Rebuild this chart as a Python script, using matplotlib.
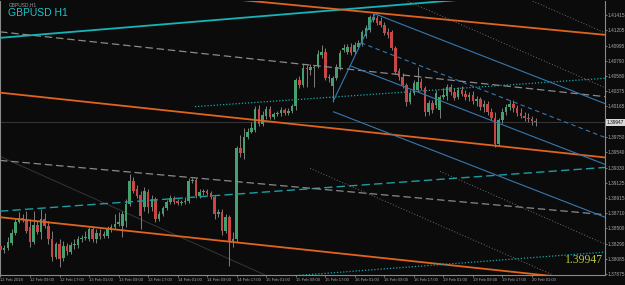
import matplotlib
matplotlib.use("Agg")
import matplotlib.pyplot as plt
import numpy as np

# GBPUSD H1 bars, 12 Feb 2018 01:00 .. 20 Feb 2018 02:00 (bar index 0 = 12 Feb 00:00)
opens = [1.38259, 1.38204, 1.38232, 1.38300, 1.38436, 1.38585, 1.38640, 1.38612, 1.38517, 1.38313,
         1.38544, 1.38449, 1.38626, 1.38531, 1.38354, 1.38109, 1.38286, 1.38096, 1.38259, 1.38177,
         1.38272, 1.38272, 1.38354, 1.38368, 1.38354, 1.38490, 1.38354, 1.38436, 1.38395, 1.38395,
         1.38476, 1.38517, 1.38558, 1.38531, 1.38599, 1.38830, 1.39143, 1.39034, 1.38952, 1.38789,
         1.38993, 1.38789, 1.38898, 1.38626, 1.38694, 1.38776, 1.38857, 1.38912, 1.38871, 1.38844,
         1.38857, 1.38871, 1.39143, 1.39156, 1.38939, 1.38993, 1.39007, 1.38980, 1.38925, 1.38694,
         1.38721, 1.38463, 1.38653, 1.38327, 1.38354, 1.39592, 1.39524, 1.39754, 1.39823, 1.39850,
         1.40136, 1.39932, 1.40040, 1.40136, 1.40027, 1.40068, 1.40081, 1.40122, 1.40081, 1.40109,
         1.40177, 1.40531, 1.40463, 1.40694, 1.40667, 1.40708, 1.40721, 1.40871, 1.40912, 1.40558,
         1.40449, 1.40558, 1.40708, 1.40939, 1.40912, 1.40980, 1.40912, 1.40980, 1.41021, 1.41129,
         1.41211, 1.41347, 1.41374, 1.41333, 1.41279, 1.41184, 1.41184, 1.40966, 1.40653, 1.40572,
         1.40463, 1.40232, 1.40354, 1.40395, 1.40504, 1.40422, 1.40095, 1.40218, 1.40191, 1.40122,
         1.40300, 1.40313, 1.40436, 1.40368, 1.40300, 1.40395, 1.40340, 1.40300, 1.40327, 1.40245,
         1.40273, 1.40164, 1.40205, 1.40095, 1.40013, 1.39646, 1.39986, 1.40095, 1.40164, 1.40205,
         1.40150, 1.40081, 1.40040, 1.40013, 1.39999, 1.39972]
highs = [1.38327, 1.38272, 1.38381, 1.38490, 1.38626, 1.38721, 1.38694, 1.38735, 1.38626, 1.38735,
         1.38599, 1.38762, 1.38708, 1.38599, 1.38463, 1.38313, 1.38354, 1.38327, 1.38300, 1.38313,
         1.38354, 1.38395, 1.38408, 1.38463, 1.38517, 1.38517, 1.38490, 1.38490, 1.38463, 1.38531,
         1.38558, 1.38694, 1.38721, 1.38735, 1.38898, 1.39238, 1.39197, 1.39088, 1.39007, 1.39061,
         1.39034, 1.38952, 1.38925, 1.38735, 1.38803, 1.38884, 1.38952, 1.38939, 1.38898, 1.38884,
         1.38925, 1.39184, 1.39184, 1.39184, 1.39034, 1.39034, 1.39034, 1.39007, 1.38952, 1.38762,
         1.38762, 1.38694, 1.38680, 1.38449, 1.39619, 1.39782, 1.39877, 1.39877, 1.39959, 1.40177,
         1.40191, 1.40109, 1.40177, 1.40177, 1.40095, 1.40109, 1.40164, 1.40150, 1.40150, 1.40205,
         1.40558, 1.40585, 1.40748, 1.40735, 1.40748, 1.40735, 1.40939, 1.41007, 1.40966, 1.40613,
         1.40585, 1.40748, 1.40939, 1.41021, 1.41021, 1.41034, 1.41048, 1.41075, 1.41211, 1.41279,
         1.41415, 1.41442, 1.41415, 1.41388, 1.41320, 1.41238, 1.41211, 1.40993, 1.40694, 1.40626,
         1.40490, 1.40395, 1.40531, 1.40708, 1.40558, 1.40449, 1.40259, 1.40259, 1.40395, 1.40327,
         1.40422, 1.40477, 1.40477, 1.40422, 1.40436, 1.40449, 1.40395, 1.40368, 1.40381, 1.40313,
         1.40300, 1.40259, 1.40245, 1.40150, 1.40095, 1.40013, 1.40150, 1.40205, 1.40259, 1.40259,
         1.40191, 1.40150, 1.40095, 1.40081, 1.40040, 1.40013]
lows = [1.38123, 1.38164, 1.38204, 1.38272, 1.38408, 1.38572, 1.38585, 1.38436, 1.38245, 1.38286,
        1.38422, 1.38354, 1.38504, 1.38286, 1.38055, 1.38082, 1.37973, 1.38055, 1.38136, 1.38150,
        1.38218, 1.38232, 1.38313, 1.38340, 1.38327, 1.38313, 1.38300, 1.38354, 1.38368, 1.38368,
        1.38449, 1.38490, 1.38531, 1.38381, 1.38517, 1.38803, 1.38980, 1.38912, 1.38490, 1.38735,
        1.38708, 1.38735, 1.38585, 1.38599, 1.38667, 1.38748, 1.38830, 1.38830, 1.38816, 1.38816,
        1.38830, 1.38844, 1.39116, 1.38912, 1.38912, 1.38952, 1.38952, 1.38898, 1.38626, 1.38653,
        1.38408, 1.38436, 1.37987, 1.38245, 1.38313, 1.39469, 1.39442, 1.39727, 1.39796, 1.39823,
        1.39904, 1.39904, 1.39999, 1.39999, 1.39999, 1.40040, 1.40040, 1.40054, 1.40054, 1.40081,
        1.40122, 1.40422, 1.40436, 1.40436, 1.40599, 1.40436, 1.40694, 1.40830, 1.40531, 1.40504,
        1.40232, 1.40531, 1.40667, 1.40912, 1.40884, 1.40871, 1.40884, 1.40953, 1.40993, 1.41102,
        1.41184, 1.41320, 1.41279, 1.41252, 1.41143, 1.41102, 1.40939, 1.40613, 1.40531, 1.40422,
        1.40177, 1.40205, 1.40327, 1.40368, 1.40395, 1.40040, 1.40054, 1.40081, 1.40150, 1.40013,
        1.40273, 1.40259, 1.40327, 1.40259, 1.40273, 1.40313, 1.40259, 1.40245, 1.40205, 1.40177,
        1.40122, 1.40095, 1.40054, 1.39986, 1.39609, 1.39619, 1.39945, 1.40054, 1.40122, 1.40095,
        1.40040, 1.40013, 1.39972, 1.39959, 1.39918, 1.39904]
closes = [1.38204, 1.38232, 1.38313, 1.38436, 1.38585, 1.38640, 1.38612, 1.38463, 1.38313, 1.38544,
          1.38449, 1.38626, 1.38531, 1.38354, 1.38109, 1.38286, 1.38082, 1.38259, 1.38191, 1.38272,
          1.38286, 1.38354, 1.38368, 1.38381, 1.38490, 1.38354, 1.38436, 1.38395, 1.38422, 1.38490,
          1.38517, 1.38558, 1.38585, 1.38694, 1.38830, 1.39143, 1.39007, 1.38939, 1.38667, 1.39007,
          1.38789, 1.38898, 1.38626, 1.38694, 1.38776, 1.38857, 1.38912, 1.38857, 1.38844, 1.38857,
          1.38871, 1.39143, 1.39156, 1.38939, 1.38993, 1.39007, 1.38980, 1.38925, 1.38694, 1.38721,
          1.38463, 1.38653, 1.38327, 1.38354, 1.39592, 1.39524, 1.39754, 1.39823, 1.39877, 1.40136,
          1.39932, 1.40054, 1.40136, 1.40027, 1.40068, 1.40081, 1.40122, 1.40081, 1.40109, 1.40177,
          1.40531, 1.40463, 1.40694, 1.40681, 1.40708, 1.40694, 1.40884, 1.40912, 1.40558, 1.40572,
          1.40558, 1.40708, 1.40898, 1.40966, 1.40980, 1.40898, 1.41007, 1.41034, 1.41184, 1.41238,
          1.41388, 1.41388, 1.41306, 1.41279, 1.41170, 1.41143, 1.40966, 1.40640, 1.40572, 1.40463,
          1.40232, 1.40354, 1.40490, 1.40504, 1.40422, 1.40095, 1.40218, 1.40122, 1.40354, 1.40300,
          1.40327, 1.40436, 1.40368, 1.40286, 1.40395, 1.40340, 1.40300, 1.40327, 1.40245, 1.40273,
          1.40164, 1.40205, 1.40095, 1.40013, 1.39646, 1.39986, 1.40095, 1.40164, 1.40205, 1.40150,
          1.40081, 1.40040, 1.40013, 1.39999, 1.39972, 1.39947]
first_bar = 1
last_price = 1.39947

# time axis labels (bar index -> label)
x_tick_pos = [1, 9, 17, 25, 33, 41, 49, 57, 65, 73, 81, 89, 97, 105, 113, 121, 129, 137, 145]
x_tick_labels = ["12 Feb 2018", "12 Feb 09:00", "12 Feb 17:00", "13 Feb 01:00", "13 Feb 09:00",
                 "13 Feb 17:00", "14 Feb 01:00", "14 Feb 09:00", "14 Feb 17:00", "15 Feb 01:00",
                 "15 Feb 09:00", "15 Feb 17:00", "16 Feb 01:00", "16 Feb 09:00", "16 Feb 17:00",
                 "19 Feb 01:00", "19 Feb 09:00", "19 Feb 17:00", "20 Feb 01:00"]
y_ticks = [1.41415, 1.41205, 1.40995, 1.40790, 1.40580, 1.40375, 1.40165, 1.39750, 1.39540,
           1.39330, 1.39125, 1.38915, 1.38710, 1.38500, 1.38290, 1.38085, 1.37875]

# drawn objects: (bar0, price0, bar1, price1)
cyan_lines = [(0.87, 1.41102, 164.8, 1.41785)]
orange_lines = [(63.2, 1.41633, 164.8, 1.41143),
                (0.87, 1.40354, 164.8, 1.39469),
                (0.87, 1.38653, 164.8, 1.37773)]
cyan_dotted = [(79.5, 1.37850, 164.8, 1.38177),
               (53.7, 1.40163, 164.8, 1.40550)]
teal_dashed = [(0.87, 1.38735, 164.8, 1.39333)]
gray_dashed = [(0.87, 1.39429, 164.8, 1.38687),
               (0.87, 1.41184, 164.8, 1.40299)]
gray_dotted = [(144.5, 1.41619, 164.8, 1.41170),
               (110.6, 1.41619, 164.8, 1.40422),
               (84.9, 1.39320, 150.7, 1.37864),
               (120.1, 1.39279, 164.8, 1.38286)]
faint_lines = [(0.87, 1.39483, 72.7, 1.37864)]
blue_lines = [(91.1, 1.40231, 102.5, 1.41429),
              (102.5, 1.41429, 164.8, 1.40204),
              (95.7, 1.40721, 164.8, 1.39374),
              (91.1, 1.40095, 164.8, 1.38653)]
blue_dashed = [(98.7, 1.41034, 164.8, 1.39742)]

BG = "#0b0b0b"
FG = "#a8a8a8"
BULL = "#44a06e"
BEAR = "#c94646"
WICK = "#909090"

fig = plt.figure(figsize=(6.25, 2.85), dpi=100, facecolor=BG)
ax = fig.add_axes([0 / 625, 10 / 285, 605 / 625, 274 / 285])
ax.set_facecolor(BG)

x = np.arange(first_bar, first_bar + len(closes))
o = np.array(opens)
h = np.array(highs)
l = np.array(lows)
c = np.array(closes)
up = c >= o

# wicks
ax.vlines(x, l, h, color=WICK, linewidth=0.6, zorder=2)
# bodies
body_lo = np.minimum(o, c)
body_h = np.maximum(np.abs(c - o), 0.00003)
ax.bar(x[up], body_h[up], bottom=body_lo[up], width=0.7, color=BULL, linewidth=0, zorder=3)
ax.bar(x[~up], body_h[~up], bottom=body_lo[~up], width=0.7, color=BEAR, linewidth=0, zorder=3)

def draw(lines, **kw):
    for x0, p0, x1, p1 in lines:
        ax.plot([x0, x1], [p0, p1], solid_capstyle="butt", **kw)

draw(cyan_lines, color="#16b4b8", lw=1.3, zorder=4)
draw(orange_lines, color="#e0641e", lw=1.3, zorder=4)
draw(cyan_dotted, color="#16a8ac", lw=0.9, ls=(0, (1, 1.5)), zorder=4)
draw(teal_dashed, color="#1a9ea4", lw=1.0, ls=(0, (6, 3)), zorder=4)
draw(gray_dashed, color="#8a8a8a", lw=0.9, ls=(0, (6, 3)), zorder=4)
draw(gray_dotted, color="#6e6e6e", lw=0.7, ls=(0, (1, 2)), zorder=4)
draw(faint_lines, color="#353535", lw=0.7, zorder=1)
draw(blue_lines, color="#3778b0", lw=0.8, zorder=4)
draw(blue_dashed, color="#3778b0", lw=0.8, ls=(0, (4, 3)), zorder=4)

# bid line
ax.axhline(last_price, color="#3e3e3e", lw=0.6, zorder=1)

ax.set_xlim(0.87, 164.8)
ax.set_ylim(1.37864, 1.41605)

ax.spines["top"].set_visible(False)
for side in ["left", "right", "bottom"]:
    ax.spines[side].set_color("#8a8a8a")
    ax.spines[side].set_linewidth(0.8)

ax.set_xticks(x_tick_pos)
ax.set_xticklabels(x_tick_labels, ha="left", fontsize=3.0, family="Liberation Sans")
ax.yaxis.tick_right()
ax.set_yticks(y_ticks)
ax.set_yticklabels(["%.5f" % v for v in y_ticks], fontsize=3.4, family="Liberation Sans")
ax.tick_params(axis="x", colors=FG, length=1.5, width=0.5, pad=0.8)
ax.tick_params(axis="y", colors=FG, length=1.5, width=0.5, pad=0.6)

# current price tag on the price scale
ax.text(1.003, last_price, "%.5f" % last_price, transform=ax.get_yaxis_transform(),
        fontsize=3.4, family="Liberation Sans", color="#101010", va="center", ha="left",
        bbox=dict(boxstyle="square,pad=0.2", fc="#d8d8d8", ec="none"))

# titles
fig.text(9 / 625, 1 - 5 / 285, "GBPUSD,H1", fontsize=3.5, color="#9a9a9a",
         family="Liberation Sans", va="center", ha="left")
fig.text(8 / 625, 1 - 13 / 285, "GBPUSD H1", fontsize=7.5, color="#19c6c9",
         family="Liberation Sans", va="center", ha="left")
# big price label object
fig.text(603 / 625, 1 - 260 / 285, "%.5f" % last_price, fontsize=8.5, color="#b8c43a",
         family="Liberation Serif", va="center", ha="right")

fig.savefig("out.png", dpi=100, facecolor=BG)
